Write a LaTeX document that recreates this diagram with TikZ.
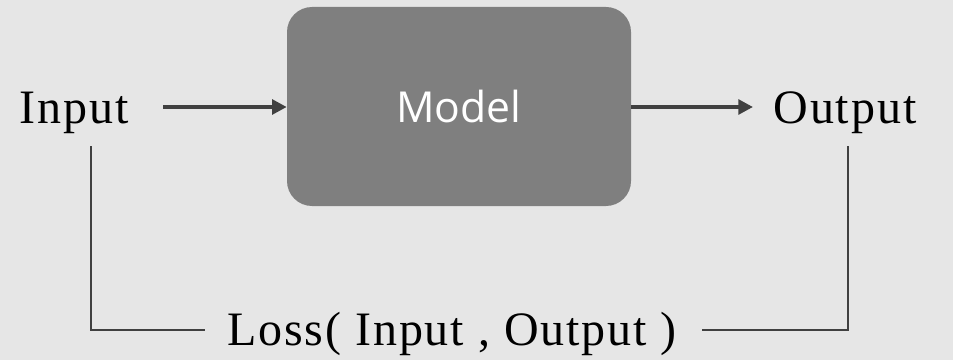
\documentclass[tikz,border=0pt]{standalone}
\usepackage{fontspec}
\setmainfont{Liberation Serif}[LetterSpace=4]
\newfontfamily\boxfont{Open Sans}
\usetikzlibrary{arrows.meta}
\definecolor{bg}{HTML}{E6E6E6}
\definecolor{boxgray}{HTML}{7F7F7F}
\definecolor{ink}{HTML}{404040}
\tikzset{
  label text/.style={font=\fontsize{36}{40}\selectfont, text=black, inner sep=0pt},
  modelbox/.style={rectangle, rounded corners=18.75pt, fill=boxgray,
    minimum width=258pt, minimum height=149.25pt, inner sep=0pt,
    text=white, font=\boxfont\fontsize{32}{38}\selectfont},
  flow/.style={draw=ink, line width=3pt, -{Triangle[length=11pt,width=11pt]}},
  lossline/.style={draw=ink, line width=0.9pt}
}
\begin{document}
\begin{tikzpicture}[x=0.75pt,y=-0.75pt]
  % canvas
  \fill[bg] (0,0) rectangle (953,360);
  \useasboundingbox (0,0) rectangle (953,360);

  % the model block
  \node[modelbox] (model) at (459,106.5) {Model};

  % input and output labels
  \node[label text, anchor=base] (in) at (74,123) {Input};
  \node[label text, anchor=base] (out) at (845,123) {Output};

  % loss label
  \node[label text, anchor=base] (loss) at (452,345) {Loss( Input , Output )};

  % forward arrows
  \coordinate (inarrow) at (163,107);
  \coordinate (outarrow) at (753,107);
  \draw[flow] (inarrow) -- (inarrow -| model.west);
  \draw[flow] (outarrow -| model.east) -- (outarrow);

  % loss bracket
  \coordinate (intap) at (91,146);
  \coordinate (outtap) at (848,146);
  \coordinate (lossleft) at (205,330);
  \coordinate (lossright) at (702,330);
  \draw[lossline] (intap) |- (lossleft);
  \draw[lossline] (outtap) |- (lossright);
\end{tikzpicture}
\end{document}
